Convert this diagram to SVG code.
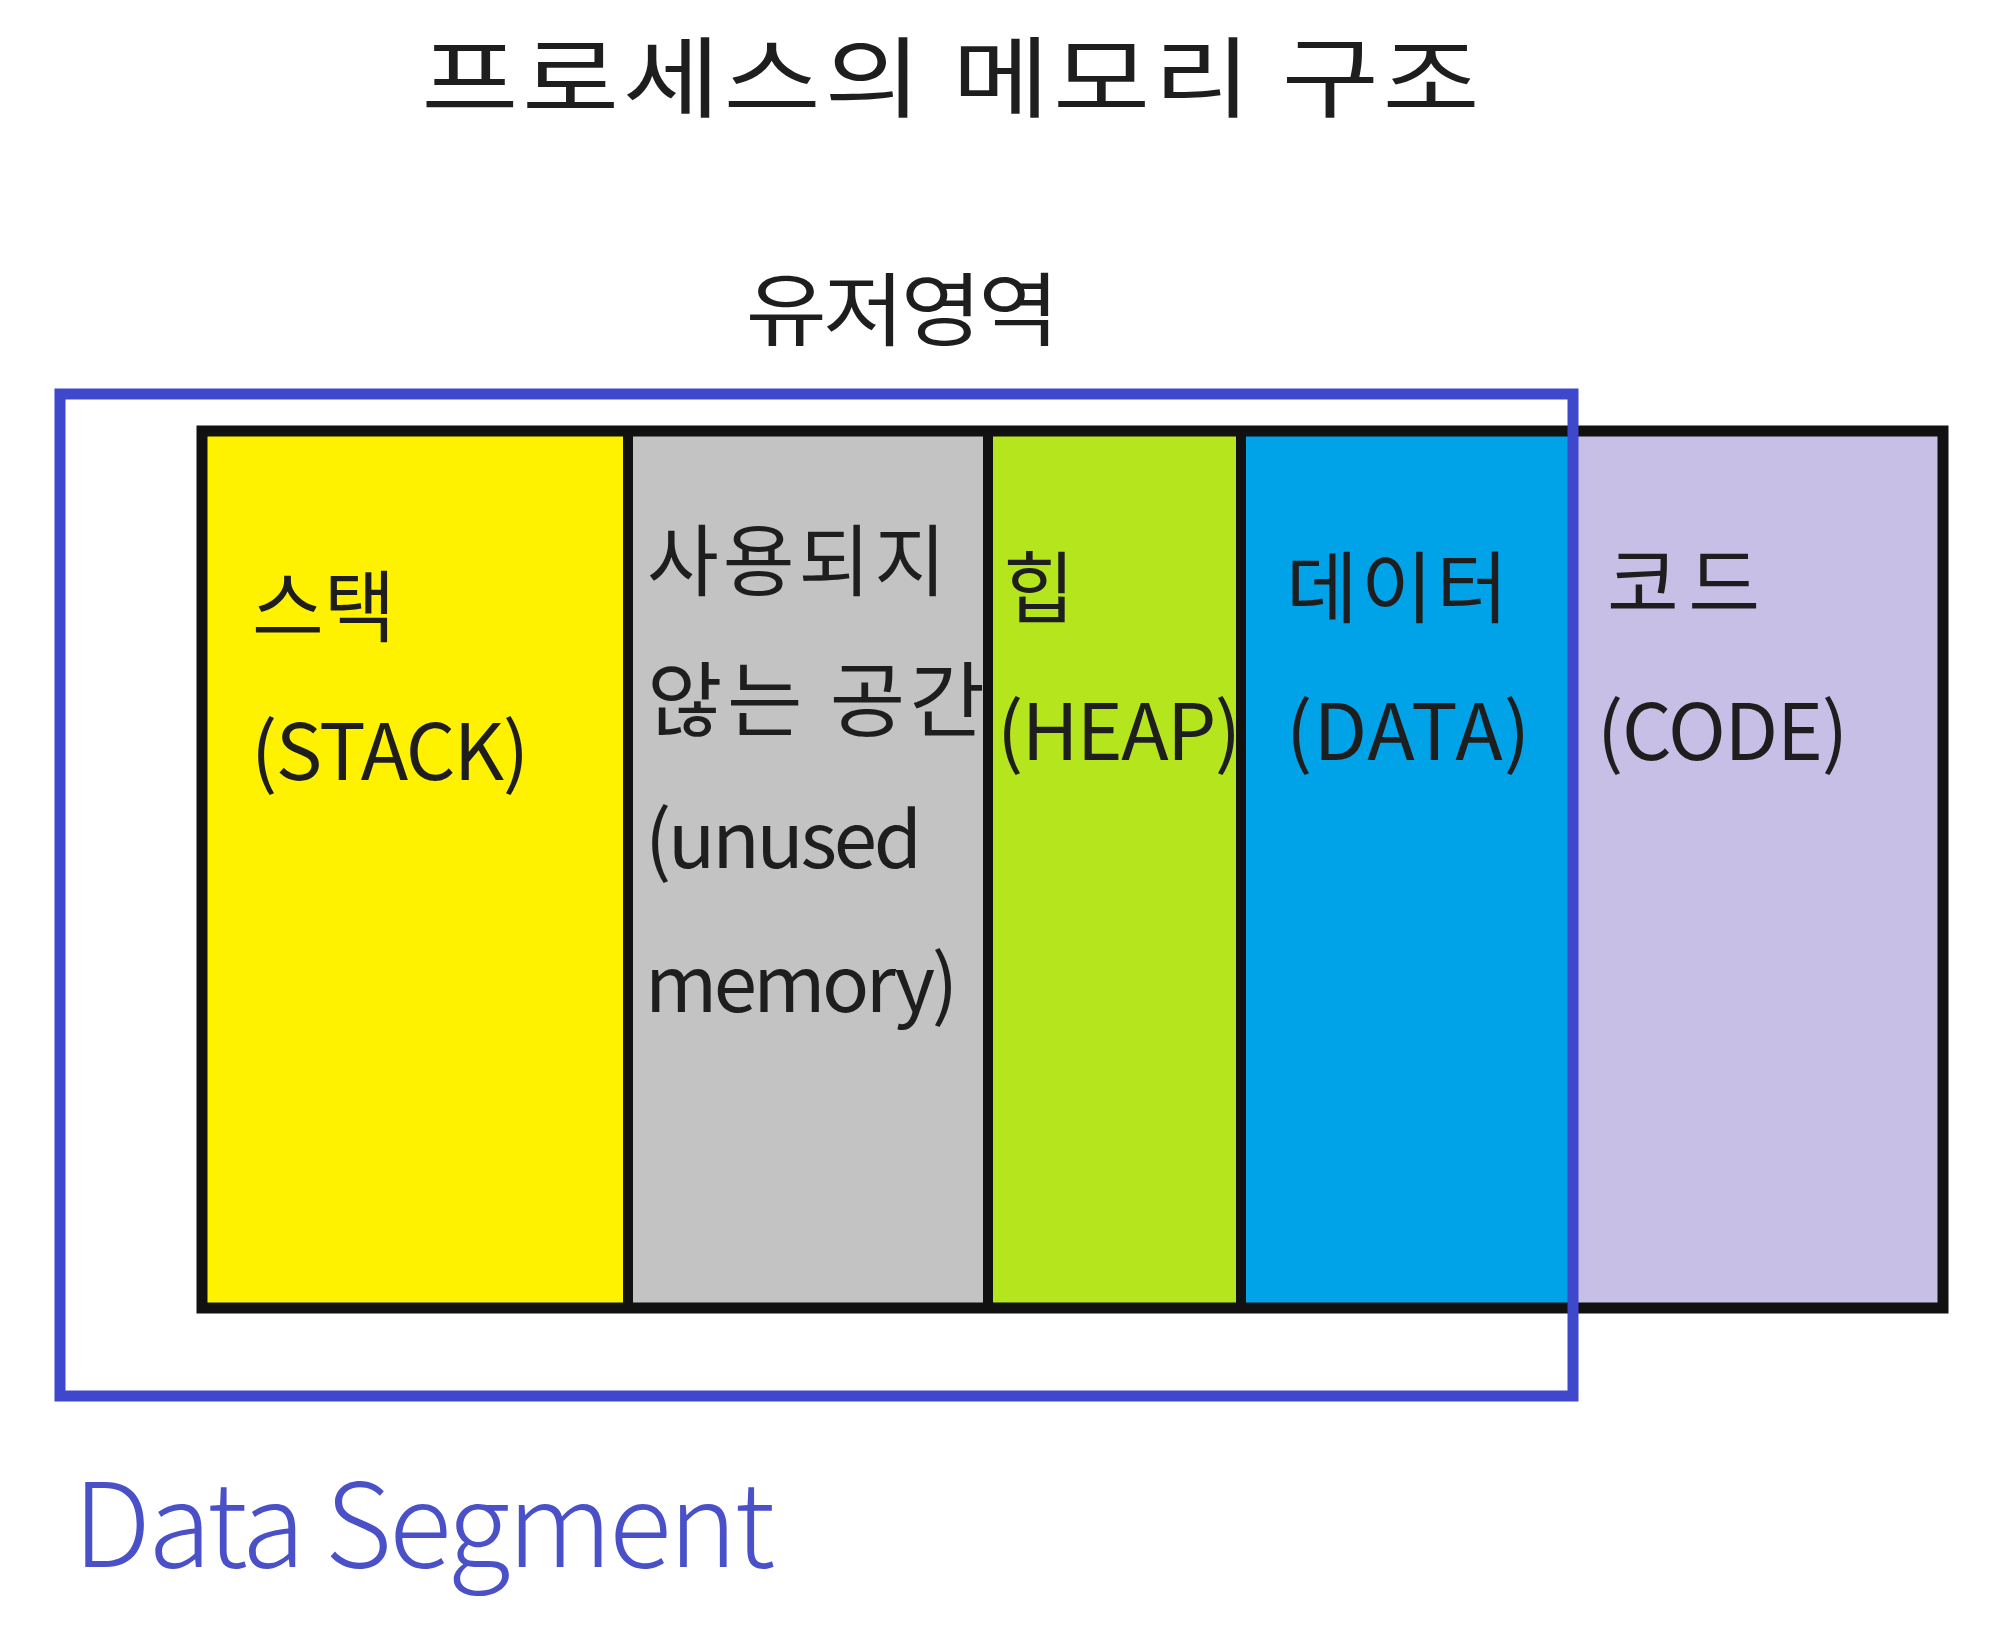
<svg xmlns="http://www.w3.org/2000/svg" width="2000" height="1637" viewBox="0 0 2000 1637">
<style>
.k{font-family:"Noto Sans CJK KR","Noto Sans",sans-serif;fill:#1e1e1e;}
.t{font-size:78px;}
.frame{fill:none;stroke:#111;stroke-width:11;stroke-linecap:round;}
.div{stroke:#111;stroke-width:10;}
</style>
<rect width="2000" height="1637" fill="#ffffff"/>
<g id="title">
<text class="k" transform="scale(1.2,1)" x="351" y="110" font-size="88" fill="#333" textLength="882" lengthAdjust="spacing">프로세스의 메모리 구조</text>
</g>
<g id="user-area-label">
<text class="k" transform="scale(1.1,1)" x="678" y="339" font-size="80" textLength="285" lengthAdjust="spacing">유저영역</text>
</g>
<g id="stack">
<rect x="202" y="431" width="426" height="877" fill="#FFF200"/>
<text class="k t" x="252" y="636">스택</text>
<text class="k t" x="251" y="780" textLength="278" lengthAdjust="spacing">(STACK)</text>
</g>
<g id="unused">
<rect x="628" y="431" width="360" height="877" fill="#C3C3C3"/>
<text class="k t" x="647" y="590" textLength="299" lengthAdjust="spacing">사용되지</text>
<text class="k" x="647" y="730" font-size="82" textLength="338" lengthAdjust="spacing">않는 공간</text>
<text class="k t" x="645" y="868" textLength="277" lengthAdjust="spacing">(unused</text>
<text class="k t" x="645" y="1012" textLength="313" lengthAdjust="spacing">memory)</text>
</g>
<g id="heap">
<rect x="988" y="431" width="253" height="877" fill="#B5E61D"/>
<text class="k t" x="1003" y="617">힙</text>
<text class="k t" x="997" y="760" textLength="244" lengthAdjust="spacing">(HEAP)</text>
</g>
<g id="data">
<rect x="1241" y="431" width="332" height="877" fill="#00A2E8"/>
<text class="k t" x="1286" y="617" textLength="222" lengthAdjust="spacing">데이터</text>
<text class="k t" x="1286" y="760" textLength="244" lengthAdjust="spacing">(DATA)</text>
</g>
<g id="code">
<rect x="1573" y="431" width="370" height="877" fill="#C8BFE7"/>
<text class="k t" x="1607" y="612" textLength="153" lengthAdjust="spacing">코드</text>
<text class="k t" x="1597" y="760" textLength="251" lengthAdjust="spacing">(CODE)</text>
</g>
<g id="connectors">
<rect class="frame" x="202" y="431" width="1741" height="877"/>
<line class="div" x1="628" y1="431" x2="628" y2="1308"/>
<line class="div" x1="988" y1="431" x2="988" y2="1308"/>
<line class="div" x1="1241" y1="431" x2="1241" y2="1308"/>
</g>
<g id="data-segment">
<rect x="60" y="394" width="1513" height="1002" fill="none" stroke="#3F48CC" stroke-width="11"/>
<text x="73" y="1567" font-family="'Noto Sans CJK KR','Noto Sans',sans-serif" font-weight="300" font-size="116" fill="#4A50C8" textLength="702" lengthAdjust="spacing">Data Segment</text>
</g>
</svg>
